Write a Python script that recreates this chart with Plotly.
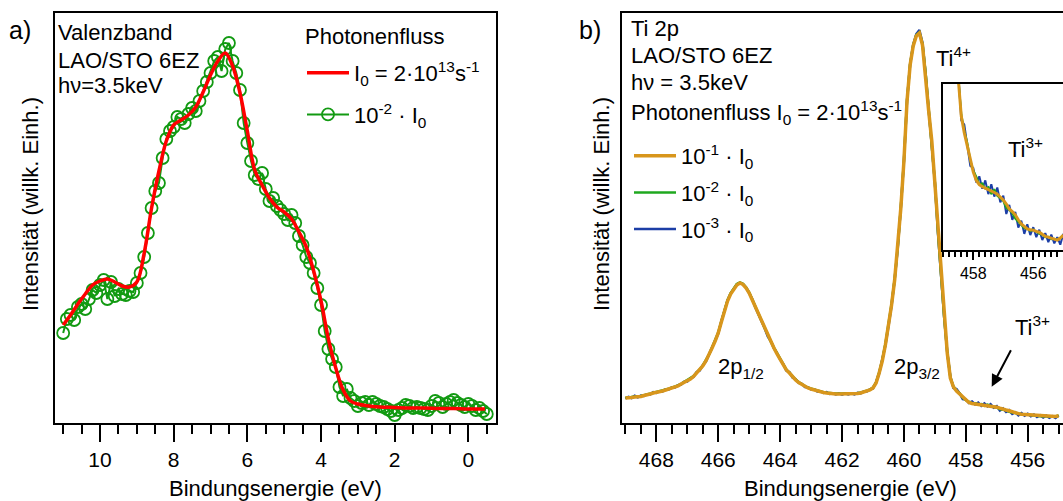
import numpy as np
import plotly.graph_objects as go

# ---------------- Panel a: valence band ----------------
vb_fit_energy = [11.0, 10.8, 10.6, 10.4, 10.2, 10.0, 9.8, 9.6, 9.4, 9.2, 9.0, 8.8, 8.6, 8.4,
                 8.2, 8.0, 7.8, 7.6, 7.4, 7.2, 7.0, 6.8, 6.6, 6.4, 6.2, 6.0, 5.8, 5.6, 5.4,
                 5.2, 5.0, 4.8, 4.6, 4.4, 4.2, 4.0, 3.8, 3.6, 3.4, 3.2, 3.0, 2.8, 2.6, 2.4,
                 2.0, 1.6, 1.2, 0.8, 0.4, 0.0, -0.45]
vb_fit_int = [98, 108, 119, 129, 138, 142, 144, 141, 137, 136, 141, 170, 215, 252,
              282, 298, 303, 308, 316, 331, 348, 362, 370, 357, 330, 292, 253, 238, 225,
              216, 211, 204, 191, 176, 152, 122, 84, 55, 33, 22, 19, 17.5, 16.5, 16,
              15.5, 15, 15, 14.5, 14.5, 14, 14]

vb_low_energy = [11.0, 10.9, 10.8, 10.7, 10.6, 10.5, 10.4, 10.3, 10.2, 10.1, 10.0, 9.9, 9.8,
                 9.7, 9.6, 9.5, 9.4, 9.3, 9.2, 9.1, 9.0, 8.9, 8.8, 8.7, 8.6, 8.5, 8.4, 8.3,
                 8.2, 8.1, 8.0, 7.9, 7.8, 7.7, 7.6, 7.5, 7.4, 7.3, 7.2, 7.1, 7.0, 6.9, 6.8,
                 6.7, 6.6, 6.5, 6.4, 6.3, 6.2, 6.1, 6.0, 5.9, 5.8, 5.7, 5.6, 5.5, 5.4, 5.3,
                 5.2, 5.1, 5.0, 4.9, 4.8, 4.7, 4.6, 4.5, 4.4, 4.3, 4.2, 4.1, 4.0, 3.9, 3.8,
                 3.7, 3.6, 3.5, 3.4, 3.3, 3.2, 3.1, 3.0, 2.9, 2.8, 2.7, 2.6, 2.5, 2.4, 2.3,
                 2.2, 2.1, 2.0, 1.9, 1.8, 1.7, 1.6, 1.5, 1.4, 1.3, 1.2, 1.1, 1.0, 0.9, 0.8,
                 0.7, 0.6, 0.5, 0.4, 0.3, 0.2, 0.1, 0.0, -0.1, -0.2, -0.3, -0.4, -0.5]
vb_low_int = [90, 104, 108, 103, 116, 119, 114, 124, 133, 130, 138, 143, 124,
              141, 127, 134, 129, 128, 132, 131, 140, 150, 166, 190, 215, 232, 240, 265,
              284, 292, 296, 306, 304, 300, 309, 315, 312, 322, 332, 341, 350, 362, 366,
              352, 374, 380, 362, 350, 333, 300, 280, 262, 248, 244, 250, 234, 222, 225,
              217, 213, 209, 203, 208, 200, 187, 178, 166, 160, 150, 135, 118, 92, 74,
              64, 56, 36, 27, 34, 25, 22, 17, 20, 21, 18, 21, 19, 17, 16,
              14, 12, 8, 13, 15, 18, 17, 15, 16, 15, 14, 13, 17, 22, 20,
              16, 19, 21, 23, 20, 18, 16, 19, 17, 13, 15, 12, 9]

# ---------------- Panel b: Ti 2p core level ----------------
ti_energy = np.round(np.arange(469.0, 454.95, -0.1), 1)

ti_flux_1 = [25, 25, 25.5, 26, 26, 26.5, 27.5, 28, 29, 30, 30.5, 31, 32, 33, 34, 35, 36, 37,
             39, 40.5, 42, 44, 46.5, 50, 53, 57, 62, 68, 75, 82, 90, 101, 112, 122, 129, 134,
             138, 140, 138.5, 135, 130, 123, 116, 108, 101, 94, 87, 81, 75, 69, 64, 58, 53,
             50, 46, 43, 40.5, 38.5, 36.5, 35, 34, 33, 32, 31, 30.5, 30, 29.5, 29, 29, 29,
             29, 29, 29, 29, 29, 29.5, 30, 31, 32, 33, 35, 40, 50, 62, 78, 96, 118, 143, 175,
             215, 262, 322, 358, 377, 387, 390, 378, 349, 312, 282, 240, 190, 145, 105, 70,
             45, 36, 32, 29, 25.5, 22.5, 20.5, 19.5, 19, 18.7, 18.4, 18, 17.6, 17.2, 16.5,
             15.8, 14.8, 13.6, 13, 12.2, 11, 10, 9.4, 8.8, 8.6, 8.5, 8.2, 8, 7.5, 7, 6.8,
             6.6, 6.3, 6.1, 6.6, 7.3]

ti_flux_2 = [25.5, 25.2, 26, 26.3, 26.4, 27, 27.8, 28.6, 29.3, 30.4, 30.6, 31.5, 32.3, 33.4,
             34.2, 35.4, 36.3, 37.6, 39.2, 41, 42.6, 44.5, 47, 50.5, 53.5, 57.6, 62.4, 68.5,
             75.6, 82.5, 90.6, 101.5, 112.6, 122.8, 130, 135, 139, 140.6, 139.2, 135.5, 130.6,
             123.4, 116.4, 108.6, 101.6, 94.4, 87.6, 81.4, 75.4, 69.6, 64.4, 58.6, 53.4, 50.4,
             46.4, 43.4, 41, 38.8, 37, 35.4, 34.4, 33.2, 32.5, 31.4, 30.8, 30.2, 29.8, 29.3,
             29.4, 29.2, 29.5, 29.3, 29.4, 29.2, 29.4, 29.8, 30.3, 31.3, 32.4, 33.4, 35.5, 40.6,
             50.8, 63, 79, 97, 119, 144, 176, 216, 263, 323, 359, 378, 388, 390.5, 379, 350,
             313, 283, 241, 191, 146, 106, 71, 45.5, 36.5, 32.4, 29.6, 25.4, 22.9, 21.4, 19.6,
             19.8, 18.5, 18.9, 17.2, 18.4, 16.8, 16.2, 15.5, 13.9, 13.4, 12.6, 11.3, 10.5, 9.7,
             9.0, 8.8, 8.3, 8.6, 8.1, 7.6, 7.4, 6.8, 6.9, 6.3, 6.4, 6.2, 6.6, 7.2]

ti_flux_3 = [24.5, 26.2, 25, 27.2, 25.6, 27.4, 27, 28.8, 28.5, 30.8, 30, 31.8, 31.5, 33.8,
             33.5, 35.8, 35.5, 37.8, 38.5, 41.2, 41.5, 44.8, 46, 50.8, 52.5, 57.8, 61.5, 68.8,
             74.5, 82.8, 89.5, 101.8, 111.5, 122.5, 129.5, 134.6, 138.5, 140.2, 138.8, 135.6,
             129.5, 123.8, 115.5, 108.8, 100.5, 94.8, 86.5, 81.8, 74.5, 69.8, 63.5, 58.8, 52.5,
             50.8, 45.5, 43.8, 40, 39.2, 36, 35.8, 33.5, 33.8, 31.5, 31.8, 30, 30.8, 29, 29.8,
             28.5, 29.6, 28.4, 29.6, 28.5, 29.7, 28.6, 30.2, 29.5, 31.6, 31.5, 33.6, 34.5, 40.8,
             49.5, 62.6, 77.5, 96.6, 117.5, 143.5, 174.5, 215.5, 261.5, 322.5, 358.5, 378.5,
             389, 393, 380, 349.5, 312.5, 281.5, 240.5, 189.5, 145.5, 105.5, 70.5, 46.5, 35, 34,
             29.5, 24, 23.5, 20, 21.5, 18.5, 20.5, 17.2, 19.6, 16.6, 18.8, 15.2, 16.8, 12.4,
             14.6, 11, 12.9, 9.1, 10.8, 7.6, 9.9, 7.3, 9.2, 6.8, 8.6, 6.1, 7.8, 5.6, 7.4, 5.3,
             6.8, 5.0, 7.6]

for name, arr in [("ti_flux_1", ti_flux_1), ("ti_flux_2", ti_flux_2), ("ti_flux_3", ti_flux_3)]:
    if len(arr) != len(ti_energy):
        raise ValueError(f"{name}: {len(arr)} values for {len(ti_energy)} energies")
if len(vb_low_int) != len(vb_low_energy):
    raise ValueError(f"valence band: {len(vb_low_int)} vs {len(vb_low_energy)}")

# ---------------- styling ----------------
W, H = 1063, 501
FONT = "Liberation Sans, Arial, sans-serif"
FS = 22
RED = "#ff0000"
GREEN_A = "#129a12"
ORANGE = "#d8961c"
GREEN_B = "#1fa81f"
BLUE = "#1c3ea6"


def px_x(p):
    return p / W


def px_y(p):
    return 1 - p / H


fig = go.Figure()

# panel a traces
fig.add_trace(go.Scatter(
    x=vb_low_energy, y=vb_low_int, mode="lines+markers",
    name="10<sup>-2</sup> · I<sub>0</sub>", legend="legend", legendrank=2,
    line=dict(color=GREEN_A, width=2),
    marker=dict(symbol="circle-open", size=12, color=GREEN_A, line=dict(width=1.8, color=GREEN_A)),
    xaxis="x", yaxis="y"))
fig.add_trace(go.Scatter(
    x=vb_fit_energy, y=vb_fit_int, mode="lines", line_shape="spline",
    name="I<sub>0</sub> = 2·10<sup>13</sup>s<sup>-1</sup>", legend="legend", legendrank=1,
    line=dict(color=RED, width=3.5),
    xaxis="x", yaxis="y"))

# panel b traces (main spectrum and the zoomed inset)
series_b = [
    (ti_flux_3, BLUE, 2.5, "10<sup>-3</sup> · I<sub>0</sub>", 3),
    (ti_flux_2, GREEN_B, 2.5, "10<sup>-2</sup> · I<sub>0</sub>", 2),
    (ti_flux_1, ORANGE, 3.5, "10<sup>-1</sup> · I<sub>0</sub>", 1),
]
for vals, col, w, nm, rank in series_b:
    fig.add_trace(go.Scatter(x=ti_energy, y=vals, mode="lines", name=nm, legend="legend2",
                             legendrank=rank, line=dict(color=col, width=w),
                             xaxis="x2", yaxis="y2"))
for vals, col, w, nm, rank in series_b:
    fig.add_trace(go.Scatter(x=ti_energy, y=vals, mode="lines", showlegend=False,
                             line=dict(color=col, width=w - 0.5),
                             xaxis="x3", yaxis="y3"))

# give every legend entry its own group so the gap applies between entries
for i, tr in enumerate(fig.data):
    tr.legendgroup = f"g{i}"

axis_common = dict(showline=True, linecolor="black", linewidth=2, showgrid=False,
                   zeroline=False, ticks="outside", tickcolor="black",
                   tickfont=dict(size=21, color="black", family=FONT))

plot_top, plot_bottom = 13, 423
fig.update_layout(
    width=W, height=H, autosize=False,
    margin=dict(l=0, r=0, t=0, b=0),
    paper_bgcolor="white", plot_bgcolor="white",
    font=dict(family=FONT, size=FS, color="black"),
    xaxis=dict(**axis_common, domain=[px_x(54.7), px_x(496)], range=[11.23, -0.75],
               anchor="y", mirror=True, tick0=0, dtick=2, ticklen=17, tickwidth=2,
               minor=dict(dtick=0.5, tick0=0, ticklen=9, tickwidth=2, ticks="outside",
                          tickcolor="black")),
    yaxis=dict(showline=True, linecolor="black", linewidth=2, mirror=True, showgrid=False,
               zeroline=False, showticklabels=False, ticks="",
               domain=[px_y(plot_bottom), px_y(plot_top)], range=[0, 410], anchor="x"),
    xaxis2=dict(**axis_common, domain=[px_x(621.7), 1.0], range=[469.12, 454.86],
                anchor="y2", mirror=True, tick0=0, dtick=2, ticklen=17, tickwidth=2,
                minor=dict(dtick=0.5, tick0=0, ticklen=9, tickwidth=2, ticks="outside",
                           tickcolor="black")),
    yaxis2=dict(showline=True, linecolor="black", linewidth=2, mirror=False, showgrid=False,
                zeroline=False, showticklabels=False, ticks="",
                domain=[px_y(plot_bottom), px_y(plot_top)], range=[0, 410], anchor="x2"),
    xaxis3=dict(showline=True, linecolor="black", linewidth=2, showgrid=False, zeroline=False,
                ticks="outside", tickcolor="black", mirror=True,
                tickfont=dict(size=16, color="black", family=FONT),
                domain=[px_x(943.3), 1.0], range=[459.0, 455.01], anchor="y3",
                tick0=0, dtick=2, ticklen=8, tickwidth=2,
                minor=dict(dtick=0.2, tick0=0, ticklen=5, tickwidth=1.5, ticks="outside",
                           tickcolor="black")),
    yaxis3=dict(showline=True, linecolor="black", linewidth=2, mirror=False, showgrid=False,
                zeroline=False, showticklabels=False, ticks="",
                domain=[px_y(250), px_y(84)], range=[3.7, 43.8], anchor="x3"),
    legend=dict(x=px_x(302), y=px_y(52), xanchor="left", yanchor="top",
                bgcolor="rgba(0,0,0,0)", borderwidth=0, font=dict(size=FS),
                traceorder="grouped", tracegroupgap=10, itemwidth=42),
    legend2=dict(x=px_x(629), y=px_y(135), xanchor="left", yanchor="top",
                 bgcolor="rgba(0,0,0,0)", borderwidth=0, font=dict(size=FS),
                 traceorder="grouped", tracegroupgap=5, itemwidth=42),
    showlegend=True,
)

annotations = [
    dict(text="a)", x=px_x(7), y=px_y(30), xanchor="left", yanchor="middle", font=dict(size=25)),
    dict(text="b)", x=px_x(577), y=px_y(30), xanchor="left", yanchor="middle", font=dict(size=25)),
    dict(text="Valenzband", x=px_x(56), y=px_y(33), xanchor="left", yanchor="middle"),
    dict(text="LAO/STO 6EZ", x=px_x(56), y=px_y(60), xanchor="left", yanchor="middle"),
    dict(text="hν=3.5keV", x=px_x(56), y=px_y(86), xanchor="left", yanchor="middle"),
    dict(text="Ti 2p", x=px_x(629), y=px_y(28), xanchor="left", yanchor="middle"),
    dict(text="LAO/STO 6EZ", x=px_x(629), y=px_y(55), xanchor="left", yanchor="middle"),
    dict(text="hν = 3.5keV", x=px_x(629), y=px_y(82), xanchor="left", yanchor="middle"),
    dict(text="Photonenfluss", x=px_x(303), y=px_y(36), xanchor="left", yanchor="middle"),
    dict(text="Photonenfluss I<sub>0</sub> = 2·10<sup>13</sup>s<sup>-1</sup>",
         x=px_x(629), y=px_y(113), xanchor="left", yanchor="middle"),
    dict(text="Intensität (willk. Einh.)", x=px_x(30), y=px_y(204), textangle=-90,
         xanchor="center", yanchor="middle"),
    dict(text="Intensität (willk. Einh.)", x=px_x(601), y=px_y(204), textangle=-90,
         xanchor="center", yanchor="middle"),
    dict(text="Bindungsenergie (eV)", x=px_x(275), y=px_y(488), xanchor="center",
         yanchor="middle"),
    dict(text="Bindungsenergie (eV)", x=px_x(850), y=px_y(488), xanchor="center",
         yanchor="middle"),
    dict(text="Ti<sup>4+</sup>", x=px_x(934), y=px_y(57), xanchor="left", yanchor="middle"),
    dict(text="Ti<sup>3+</sup>", x=px_x(1006), y=px_y(148), xanchor="left", yanchor="middle"),
    dict(text="2p<sub>1/2</sub>", x=px_x(716), y=px_y(368), xanchor="left", yanchor="middle"),
    dict(text="2p<sub>3/2</sub>", x=px_x(892), y=px_y(368), xanchor="left", yanchor="middle"),
    dict(text="Ti<sup>3+</sup>", x=px_x(1013), y=px_y(326), xanchor="left", yanchor="middle"),
    dict(text="", x=px_x(991.7), y=px_y(386.7), ax=20, ay=-38, showarrow=True,
         arrowhead=2, arrowsize=1.2, arrowwidth=2, arrowcolor="black"),
]
for a in annotations:
    a.setdefault("xref", "paper")
    a.setdefault("yref", "paper")
    a.setdefault("showarrow", False)
fig.update_layout(annotations=annotations)

fig.write_html("out.html")
